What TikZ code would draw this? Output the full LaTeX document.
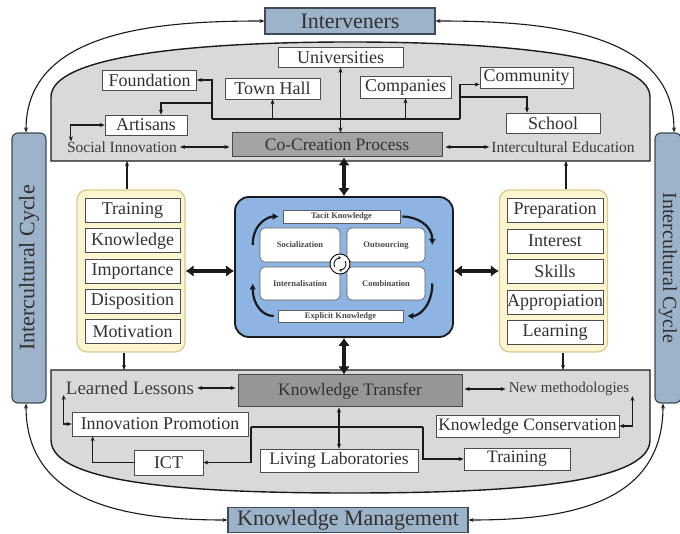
\documentclass[tikz,border=0pt]{standalone}
\usepackage{fontspec}
\setmainfont{Liberation Serif}
\usetikzlibrary{positioning,arrows.meta}
\definecolor{KMsteel}{HTML}{9DB3C9}
\definecolor{KMsteelline}{HTML}{3E4A56}
\definecolor{KMpanel}{HTML}{D9D9D9}
\definecolor{KMproc}{HTML}{A3A3A3}
\definecolor{KMcream}{HTML}{FDF5D0}
\definecolor{KMcreamline}{HTML}{D9C98E}
\definecolor{KMsky}{HTML}{8DB4E2}
\definecolor{KMink}{HTML}{1A1A1A}
\newcommand{\kmsize}[1]{\fontsize{#1}{#1}\selectfont}

\begin{document}
\begin{tikzpicture}[x=1pt, y=-1pt,
  headbox/.style={draw=KMsteelline, fill=KMsteel, line width=1.2pt, inner sep=0pt, font=\kmsize{22}, text=KMink!90},
  cycbar/.style={headbox, rounded corners=6pt},
  panel/.style={draw=KMink, fill=KMpanel, line width=1.4pt},
  entry/.style={draw=gray!60!black, fill=white, line width=0.7pt, inner sep=0pt, font=\kmsize{18}, text=KMink!90},
  proc/.style={draw=KMink!80, fill=KMproc, line width=1pt, inner sep=0pt, font=\kmsize{17.5}, text=KMink!90},
  plain/.style={inner sep=0pt, font=\kmsize{15.5}, text=KMink!85},
  cream/.style={draw=KMcreamline, fill=KMcream, line width=1.2pt, rounded corners=10pt, minimum width=108, minimum height=162},
  link/.style={KMink, line width=1.1pt, -{Stealth[length=5pt,width=4pt]}},
  linkb/.style={KMink, line width=1.1pt, {Stealth[length=5pt,width=4pt]}-{Stealth[length=5pt,width=4pt]}},
  bus/.style={KMink, line width=1.5pt},
  fat/.style={KMink, line width=4pt, {Latex[length=8pt,width=12pt]}-{Latex[length=8pt,width=12pt]}},
  seciw/.style={draw=KMink!70, fill=white, rounded corners=5pt, line width=0.6pt, minimum width=80, minimum height=34, inner sep=0pt, font=\kmsize{8.5}\bfseries, text=KMink!80},
  seciarr/.style={KMink, line width=2.2pt, -{Latex[length=6pt,width=7pt]}},
  cycl/.style={KMink, line width=0.9pt, -{Stealth[length=3pt,width=3.5pt]}}]
\useasboundingbox (0,0) rectangle (680,534);

\draw[panel] (51,161) -- (51,97) .. controls (51,55) and (200,42) .. (350,42) .. controls (500,42) and (650,55) .. (650,97) -- (650,161) -- cycle;
\draw[panel] (51,370) -- (650,370) -- (650,440) .. controls (650,485) and (500,493) .. (350,493) .. controls (200,493) and (51,485) .. (51,440) -- cycle;

\node[headbox, minimum width=170, minimum height=26] (inter) at (350,21) {Interveners};
\node[headbox, minimum width=240, minimum height=25] (km) at (348,520) {Knowledge Management};
\node[cycbar, rotate=90, minimum width=270, minimum height=34] (lcyc) at (29,268) {Intercultural Cycle};
\node[cycbar, rotate=-90, minimum width=270, minimum height=26, font=\kmsize{20}] (rcyc) at (668,268) {Intercultural Cycle};

\node[entry, minimum width=125, minimum height=20] (univ) at (340.5,57.5) {Universities};
\node[entry, minimum width=94, minimum height=20] (found) at (149.5,80) {Foundation};
\node[entry, minimum width=95, minimum height=21] (town) at (272.5,88.5) {Town Hall};
\node[entry, minimum width=91, minimum height=22] (comp) at (405.5,87) {Companies};
\node[entry, minimum width=93, minimum height=21] (commu) at (526.5,77.5) {Community};
\node[entry, minimum width=82, minimum height=20] (artis) at (146,125) {Artisans};
\node[entry, minimum width=94, minimum height=20] (school) at (553,123) {School};
\node[proc, minimum width=210, minimum height=24] (cocre) at (337,145) {Co-Creation Process};
\node[plain] (socin) at (122,147) {Social Innovation};
\node[plain] (intedu) at (563,147) {Intercultural Education};

\coordinate (busL) at (212,119); \coordinate (busR) at (460,119);
\coordinate (artL) at (212,103); \coordinate (schR) at (460,97);
\draw[bus] (busL) -- (busR);
\draw[link] (busL) |- (found.east);
\draw[link] (artL) -| ([xshift=15]artis.north);
\draw[link] (busL -| town.south) -- (town.south);
\draw[link] (busL -| comp.south) -- (comp.south);
\draw[link] (busR) |- ([yshift=-7]commu.west);
\draw[link] (schR) -| ([xshift=-26]school.north);
\draw[linkb] (univ.south) -- (univ.south |- cocre.north);
\draw[linkb] ([xshift=4]socin.north west) |- (artis.west);
\draw[linkb, shorten <=3pt, shorten >=2pt] (socin.east) -- (socin.east -| cocre.west);
\draw[linkb, shorten <=3pt, shorten >=2pt] (cocre.east |- intedu.west) -- (intedu.west);

\node[cream] (lyel) at (131,271) {};
\node[cream] (ryel) at (553.5,271) {};
\foreach \name [count=\i from 0] in {Training,Knowledge,Importance,Disposition,Motivation}
  \node[entry, minimum width=95, minimum height=24] (l\i) at (132.5,{210.5+30.3*\i}) {\name};
\foreach \name [count=\i from 0] in {Preparation,Interest,Skills,Appropiation,Learning}
  \node[entry, minimum width=96, minimum height=24] (r\i) at (555,{210.5+30.5*\i}) {\name};

\coordinate (ltop) at (127,161); \coordinate (lbot) at (124,370);
\coordinate (rtop) at (566,161); \coordinate (rbot) at (563,370);
\draw[link] (lyel.north -| ltop) -- (ltop);
\draw[link] (lyel.south -| lbot) -- (lbot);
\draw[link] (ryel.north -| rtop) -- (rtop);
\draw[link] (ryel.south -| rbot) -- (rbot);

\node[draw=KMink, fill=KMsky, line width=1.8pt, rounded corners=14pt, minimum width=218, minimum height=140] (seci) at (344,267) {};
\node[seciw, rounded corners=0pt, minimum width=117, minimum height=13] (tacit) at (341.5,216.5) {Tacit Knowledge};
\node[seciw, rounded corners=0pt, minimum width=125, minimum height=12] (expl) at (340.5,316) {Explicit Knowledge};
\node[seciw] (soc) at (300,245) {Socialization};
\node[seciw, minimum width=78] (outs) at (386,245) {Outsourcing};
\node[seciw, minimum height=33] (intern) at (300,283.5) {Internalisation};
\node[seciw, minimum width=78, minimum height=33] (comb) at (386,283.5) {Combination};
\node[circle, draw=KMink, fill=white, line width=1pt, minimum size=20, inner sep=0pt] (cyc) at (340,264) {};
\draw[cycl] ([shift={(150:6)}]cyc.center) arc[start angle=150, end angle=280, radius=6];
\draw[cycl] ([shift={(330:6)}]cyc.center) arc[start angle=330, end angle=460, radius=6];
\draw[seciarr] ([xshift=-7]soc.west) .. controls +(0,-22) and +(-10,0) .. ([xshift=-4]tacit.west);
\draw[seciarr] ([xshift=2]tacit.east) .. controls +(14,0) and +(0,-20) .. ([xshift=7]outs.east);
\draw[seciarr] ([xshift=7]comb.east) .. controls +(0,22) and +(12,0) .. ([xshift=4]expl.east);
\draw[seciarr] ([xshift=-4]expl.west) .. controls +(-12,0) and +(0,20) .. ([xshift=-7]intern.west);

\node[proc, minimum width=224, minimum height=32, fill=KMproc!92!black] (kt) at (350,391) {Knowledge Transfer};
\node[plain, font=\kmsize{19}] (lless) at (130,388) {Learned Lessons};
\node[plain, font=\kmsize{15}] (newm) at (569,389) {New methodologies};
\node[entry, minimum width=176, minimum height=24] (innov) at (160,424) {Innovation Promotion};
\node[entry, minimum width=183, minimum height=22, font=\kmsize{17.5}] (kcons) at (527.5,426) {Knowledge Conservation};
\node[entry, minimum width=69, minimum height=25] (ict) at (168.5,462.5) {ICT};
\node[entry, minimum width=158, minimum height=23, font=\kmsize{17.5}] (living) at (339,460.5) {Living Laboratories};
\node[entry, minimum width=106, minimum height=22, font=\kmsize{17.5}] (train) at (517,459) {Training};

\draw[linkb, shorten <=3pt, shorten >=2pt] (lless.east) -- (lless.east -| kt.west);
\draw[linkb, shorten <=2pt, shorten >=3pt] (kt.east |- newm.west) -- (newm.west);
\draw[linkb] ([xshift=-2]lless.south west) |- (innov.west);
\draw[linkb] ([xshift=3]newm.south east) |- (kcons.east);
\draw[linkb] (kt.south -| living.north) -- (living.north);
\coordinate (ictbus) at (251,427); \coordinate (trbus) at (423,427);
\draw[bus] (ictbus) -- (trbus);
\draw[link] (ictbus) |- (ict.east);
\draw[link] (trbus) |- (train.west);
\draw[link] (ict.west) -| ([xshift=21]innov.south west);

\draw[fat] (lyel.east) -- (lyel.east -| seci.west);
\draw[fat] (ryel.west) -- (ryel.west -| seci.east);
\draw[fat] (seci.north) -- (seci.north |- cocre.south);
\draw[fat] (seci.south) -- (seci.south |- kt.north);

\draw[linkb] (inter.west) .. controls +(-103,0) and +(0,-103) .. ([xshift=-3]lcyc.east);
\draw[linkb] (inter.east) .. controls +(103,0) and +(0,-103) .. ([xshift=6]rcyc.west);
\draw[linkb] ([xshift=-3]lcyc.west) .. controls +(0,100) and +(-100,0) .. (km.west);
\draw[linkb] ([xshift=-5]rcyc.east) .. controls +(0,100) and +(100,0) .. (km.east);
\end{tikzpicture}
\end{document}
